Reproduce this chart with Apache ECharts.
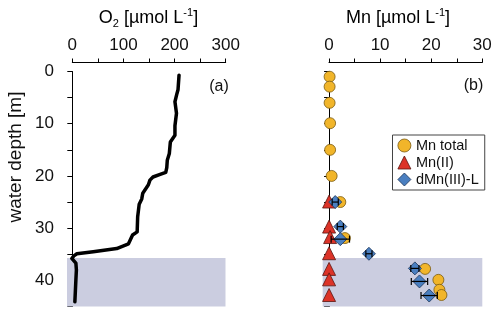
<!DOCTYPE html>
<html><head><meta charset="utf-8">
<script src="https://cdn.jsdelivr.net/npm/echarts@6/dist/echarts.min.js"></script>
<style>html,body{margin:0;padding:0;background:#fff}#c{width:500px;height:313px}</style>
</head><body><div id="c"></div>
<script>
// ---- data ----
const o2Depth = [0.7, 3.5, 4.2, 5.8, 6.1, 8.0, 10.4, 12.2, 13.5, 15.7, 17.0, 18.4, 19.3, 19.7, 20.2, 20.8, 21.7, 23.3, 24.4, 25.4, 27.8, 30.7, 31.3, 33.0, 33.9, 34.5, 34.9, 35.3, 35.8, 36.7, 38.0, 39.9, 42.0, 44.1];
const o2Value = [209, 207, 205, 201, 201, 204, 201, 201, 192, 190, 186, 185, 183, 172, 158, 152, 149, 138, 136, 131, 128, 127, 118, 110, 87, 41, 9, 3, -1, 7, 8, 7, 6, 5];

const mnTotalDepth = [1.0, 2.9, 6.0, 9.9, 15.0, 20.0, 25.0, 31.9, 37.8, 39.9, 41.8, 42.8];
const mnTotalValue = [0.1, 0.1, 0.1, 0.2, 0.2, 0.5, 2.2, 3.1, 18.8, 21.4, 21.6, 22.0];

const mn2Depth = [24.9, 29.7, 31.7, 34.8, 37.8, 39.8, 42.8];
const mn2Value = [0.0, 0.0, 0.2, 0.0, 0.0, 0.0, 0.0];

const dmn3Depth = [25.0, 29.7, 32.1, 34.9, 37.7, 40.2, 42.9];
const dmn3Value = [1.2, 2.2, 2.2, 7.8, 16.8, 17.7, 19.6];
const dmn3Err = [0.6, 0.6, 1.8, 0.6, 0.8, 1.6, 1.6];

const anoxicTop = 35.7, anoxicBottom = 45;
const depthMax = 45, depthStep = 5, depthLabelStep = 10;
const o2Max = 300, o2Step = 50, o2LabelStep = 100;
const mnMax = 30, mnStep = 5, mnLabelStep = 10;
const legendNames = ['Mn total', 'Mn(II)', 'dMn(III)-L'];
// ---------------------------------------

const FONT = 'Liberation Sans, Arial, sans-serif';
const o2Left = -10.4, mnLeft = -1.25;
const shade = '#cbcde0';

const chart = echarts.init(document.getElementById('c'), null, {renderer: 'canvas'});

function depthAxis(gridIndex, showLabels) {
  return {
    type: 'value', gridIndex, min: 0, max: depthMax, interval: depthStep, inverse: true,
    axisLine: {show: true, lineStyle: {color: '#000', width: 1}},
    axisTick: {show: true, inside: false, length: 5, lineStyle: {color: '#000', width: 1}},
    axisLabel: {show: showLabels, margin: 13, fontSize: 17, fontFamily: FONT, color: '#111',
      formatter: v => (v % depthLabelStep === 0 ? String(v) : '')},
    splitLine: {show: false}
  };
}
function hiddenY(gridIndex) {
  return {type: 'value', gridIndex, min: 0, max: depthMax, inverse: true, show: false};
}
function topAxis(gridIndex, max, step, labelStep) {
  return {
    type: 'value', gridIndex, position: 'top', offset: 9, min: 0, max, interval: step,
    axisLine: {show: true, onZero: false, lineStyle: {color: '#000', width: 1}},
    axisTick: {show: true, inside: false, length: 4, lineStyle: {color: '#000', width: 1}},
    axisLabel: {show: true, margin: 9, fontSize: 17, fontFamily: FONT, color: '#111',
      formatter: v => (v % labelStep === 0 ? String(v) : '')},
    splitLine: {show: false}
  };
}
function hiddenX(gridIndex, min, max) {
  return {type: 'value', gridIndex, min, max, show: false};
}

const errData = dmn3Value.map((v, i) => [v - dmn3Err[i], v + dmn3Err[i], dmn3Depth[i]]);

const titleRich = {
  a: {fontSize: 18, fontFamily: FONT, color: '#111', lineHeight: 22},
  s: {fontSize: 11, fontFamily: FONT, color: '#111', lineHeight: 22, verticalAlign: 'bottom'},
  p: {fontSize: 11, fontFamily: FONT, color: '#111', lineHeight: 22, verticalAlign: 'top'}
};

const option = {
  animation: false,
  backgroundColor: '#fff',
  grid: [
    {left: 67, top: 71.5, width: 158.5, height: 235},
    {left: 72.3, top: 71.5, width: 153.4, height: 235},
    {left: 322.7, top: 71.5, width: 159.6, height: 235},
    {left: 329, top: 71.5, width: 153.3, height: 235}
  ],
  xAxis: [
    hiddenX(0, o2Left, o2Max),
    topAxis(1, o2Max, o2Step, o2LabelStep),
    hiddenX(2, mnLeft, mnMax),
    topAxis(3, mnMax, mnStep, mnLabelStep)
  ],
  yAxis: [
    depthAxis(0, true),
    hiddenY(1),
    depthAxis(2, false),
    hiddenY(3)
  ],
  legend: {
    data: legendNames, orient: 'vertical', left: 392.5, top: 135,
    borderColor: '#444', borderWidth: 1, padding: [2, 6, 2, 5], itemGap: 0,
    itemWidth: 13, itemHeight: 13, itemStyle: {borderWidth: 0.8},
    textStyle: {fontSize: 14.5, fontFamily: FONT, color: '#111', lineHeight: 17}
  },
  graphic: [
    {type: 'text', x: 148.5, y: 18, style: {text: '{a|O}{s|2}{a| [µmol L}{p|-1}{a|]}', rich: titleRich, align: 'center', verticalAlign: 'middle'}},
    {type: 'text', x: 398, y: 18, style: {text: '{a|Mn [µmol L}{p|-1}{a|]}', rich: titleRich, align: 'center', verticalAlign: 'middle'}},
    {type: 'text', x: 16, y: 157, rotation: Math.PI / 2, style: {text: 'water depth [m]', fontSize: 19, fontFamily: FONT, fill: '#111', align: 'center', verticalAlign: 'middle'}},
    {type: 'text', x: 219, y: 87, style: {text: '(a)', fontSize: 16, fontFamily: FONT, fill: '#111', align: 'center', verticalAlign: 'middle'}},
    {type: 'text', x: 473.5, y: 86, style: {text: '(b)', fontSize: 16, fontFamily: FONT, fill: '#111', align: 'center', verticalAlign: 'middle'}}
  ],
  series: [
    {
      type: 'line', xAxisIndex: 0, yAxisIndex: 0, showSymbol: false, symbol: 'none',
      data: o2Value.map((v, i) => [v, o2Depth[i]]),
      lineStyle: {color: '#000', width: 3.5, join: 'round', cap: 'round'},
      z: 3,
      markArea: {silent: true, itemStyle: {color: shade},
        data: [[{xAxis: o2Left, yAxis: anoxicTop}, {xAxis: o2Max, yAxis: anoxicBottom}]]}
    },
    {
      name: 'Mn total', type: 'scatter', xAxisIndex: 2, yAxisIndex: 2, symbol: 'circle', symbolSize: 11,
      data: mnTotalValue.map((v, i) => [v, mnTotalDepth[i]]),
      itemStyle: {color: '#f1b52a', borderColor: '#7a5a10', borderWidth: 0.8, opacity: 1}, z: 2,
      markArea: {silent: true, itemStyle: {color: shade},
        data: [[{xAxis: mnLeft, yAxis: anoxicTop}, {xAxis: mnMax, yAxis: anoxicBottom}]]}
    },
    {
      name: 'Mn(II)', type: 'scatter', xAxisIndex: 2, yAxisIndex: 2, symbol: 'triangle', symbolSize: 13,
      data: mn2Value.map((v, i) => [v, mn2Depth[i]]),
      itemStyle: {color: '#dc3328', borderColor: '#5a1510', borderWidth: 0.8, opacity: 1}, z: 3
    },
    {
      name: 'dMn(III)-L', type: 'scatter', xAxisIndex: 2, yAxisIndex: 2, symbol: 'diamond', symbolSize: 13,
      data: dmn3Value.map((v, i) => [v, dmn3Depth[i]]),
      itemStyle: {color: '#4a7fc0', borderColor: '#1d3558', borderWidth: 0.8, opacity: 1}, z: 4
    },
    {
      type: 'custom', xAxisIndex: 2, yAxisIndex: 2, z: 5, silent: true,
      encode: {x: [0, 1], y: 2},
      data: errData,
      renderItem: (params, api) => {
        const d = api.value(2);
        const p1 = api.coord([api.value(0), d]);
        const p2 = api.coord([api.value(1), d]);
        const h = 3.5;
        const st = {stroke: '#000', lineWidth: 1.2, fill: null};
        return {type: 'group', children: [
          {type: 'line', shape: {x1: p1[0], y1: p1[1], x2: p2[0], y2: p2[1]}, style: st},
          {type: 'line', shape: {x1: p1[0], y1: p1[1] - h, x2: p1[0], y2: p1[1] + h}, style: st},
          {type: 'line', shape: {x1: p2[0], y1: p2[1] - h, x2: p2[0], y2: p2[1] + h}, style: st}
        ]};
      }
    }
  ]
};
chart.setOption(option);
</script>
</body></html>
